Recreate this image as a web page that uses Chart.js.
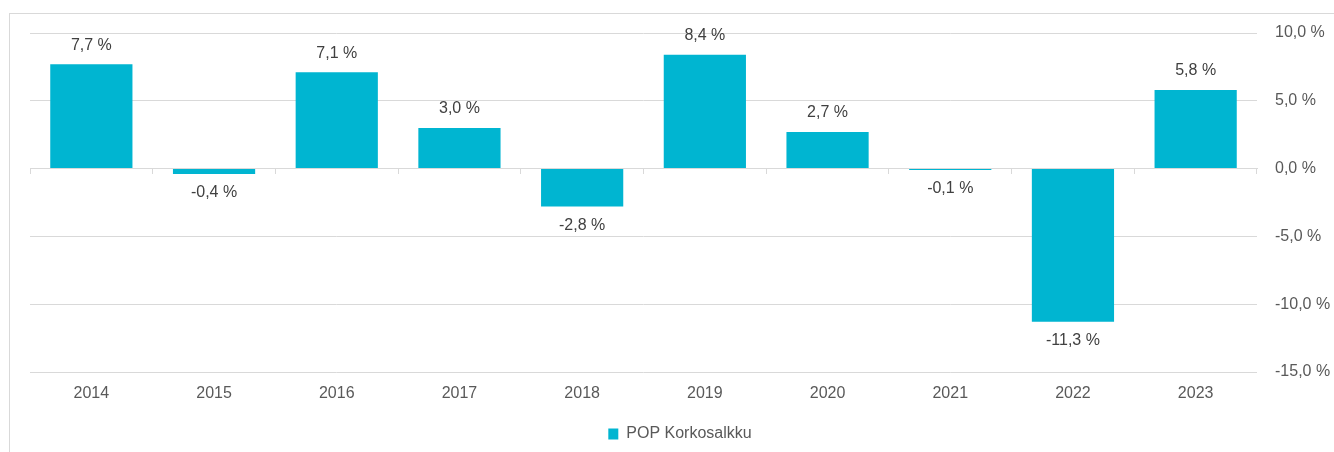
<!DOCTYPE html>
<html>
<head>
<meta charset="utf-8">
<script src="https://cdn.jsdelivr.net/npm/chart.js@4.4.1/dist/chart.umd.min.js"></script>
<style>
  html, body { margin: 0; padding: 0; background: #fff; overflow: hidden; }
  #frame { position: absolute; left: 9px; top: 13px; width: 1400px; height: 500px; border: 1px solid #d9d9d9; }
  #chart { position: absolute; left: 0; top: 0; }
</style>
</head>
<body>
<div id="frame"></div>
<canvas id="chart" width="1334" height="452"></canvas>
<script>
const years = ['2014', '2015', '2016', '2017', '2018', '2019', '2020', '2021', '2022', '2023']
const returns = [7.7, -0.4, 7.1, 3.0, -2.8, 8.4, 2.7, -0.1, -11.3, 5.8]
const seriesName = 'POP Korkosalkku'
const yTicks = [-15, -10, -5, 0, 5, 10]

const barColor = '#00b5d1'
const fontFamily = '"Liberation Sans", Arial, sans-serif'

const fmt = v => v.toFixed(1).replace('.', ',') + ' %'

// value labels above / below each bar
const valueLabels = {
    id: 'valueLabels',
    afterDatasetsDraw(chart) {
        const ctx = chart.ctx
        const meta = chart.getDatasetMeta(0)
        ctx.save()
        ctx.font = '16px ' + fontFamily
        ctx.fillStyle = '#404040'
        ctx.textAlign = 'center'
        ctx.textBaseline = 'middle'
        meta.data.forEach((bar, i) => {
            const v = returns[i]
            const y = v >= 0 ? bar.y - 19 : bar.y + 19
            ctx.fillText(fmt(v), bar.x, y)
        })
        ctx.restore()
    }
}

new Chart('chart', {
    type: 'bar',
    data: {
        labels: years,
        datasets: [{
            label: seriesName,
            data: returns,
            backgroundColor: barColor,
            borderWidth: 0,
            barPercentage: 0.67,
            categoryPercentage: 1,
            xAxisID: 'x',
            yAxisID: 'y'
        }]
    },
    options: {
        responsive: false,
        devicePixelRatio: 1,
        animation: false,
        layout: {padding: {left: 30, top: 33, right: 4, bottom: 0}},
        plugins: {
            tooltip: {enabled: false},
            legend: {
                position: 'bottom',
                labels: {
                    boxWidth: 10,
                    boxHeight: 11,
                    padding: 2,
                    color: '#595959',
                    font: {family: fontFamily, size: 16}
                }
            }
        },
        scales: {
            x: {
                offset: true,
                grid: {display: false, drawTicks: false},
                border: {display: false},
                ticks: {color: '#595959', padding: 12, font: {family: fontFamily, size: 16}},
                afterFit(scale) { scale.height = 52 }
            },
            x0: {
                type: 'category',
                labels: years,
                position: {y: 0},
                offset: true,
                grid: {offset: true, drawOnChartArea: false, drawTicks: true, tickLength: 5, color: '#d9d9d9'},
                border: {display: true, color: '#d9d9d9', width: 1},
                ticks: {display: false}
            },
            y: {
                position: 'right',
                min: -15,
                max: 10,
                afterBuildTicks(scale) { scale.ticks = yTicks.map(v => ({value: v})) },
                afterFit(scale) { scale.width = 73 },
                grid: {color: '#d9d9d9', drawTicks: false},
                border: {display: false},
                ticks: {
                    color: '#595959',
                    padding: 18,
                    font: {family: fontFamily, size: 16},
                    callback: v => fmt(v)
                }
            }
        }
    },
    plugins: [valueLabels]
})
</script>
</body>
</html>
